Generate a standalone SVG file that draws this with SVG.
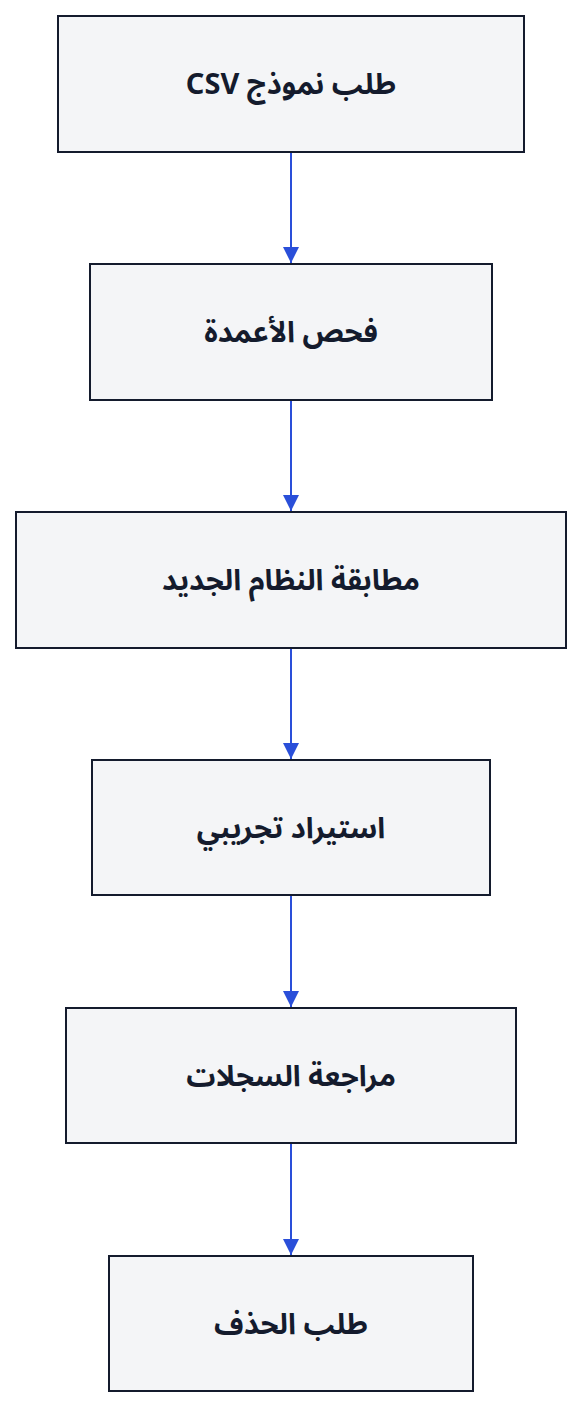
<svg xmlns="http://www.w3.org/2000/svg" width="582" height="1408" viewBox="0 0 582 1408">
<defs>
<style>
.box{fill:#f4f5f7;stroke:#141b2d;stroke-width:2}
.lbl{font-family:"Noto Sans","Noto Sans Arabic","DejaVu Sans",sans-serif;font-weight:bold;font-size:29px;fill:#141b2d;text-anchor:middle;dominant-baseline:central;direction:rtl;unicode-bidi:embed}
.edge{stroke:#2a4fd9;stroke-width:2;fill:none}
</style>
<marker id="ah" viewBox="0 0 16 16" refX="16" refY="8" markerWidth="16" markerHeight="16" markerUnits="userSpaceOnUse" orient="auto">
<path d="M0,0 L16,8 L0,16 Z" fill="#2a4fd9"/>
</marker>
</defs>
<rect width="582" height="1408" fill="#ffffff"/>
<g id="edges">
<line class="edge" x1="291" y1="152" x2="291" y2="263" marker-end="url(#ah)"/>
<line class="edge" x1="291" y1="400" x2="291" y2="511" marker-end="url(#ah)"/>
<line class="edge" x1="291" y1="648" x2="291" y2="759" marker-end="url(#ah)"/>
<line class="edge" x1="291" y1="895" x2="291" y2="1007" marker-end="url(#ah)"/>
<line class="edge" x1="291" y1="1143" x2="291" y2="1255" marker-end="url(#ah)"/>
</g>
<g id="n1"><rect class="box" x="58" y="16" width="466" height="136"/><text class="lbl" x="291" y="82" direction="rtl">طلب نموذج CSV</text></g>
<g id="n2"><rect class="box" x="90" y="264" width="402" height="136"/><text class="lbl" x="291" y="330" direction="rtl">فحص الأعمدة</text></g>
<g id="n3"><rect class="box" x="16" y="512" width="550" height="136"/><text class="lbl" x="291" y="578" direction="rtl">مطابقة النظام الجديد</text></g>
<g id="n4"><rect class="box" x="92" y="760" width="398" height="135"/><text class="lbl" x="291" y="826" direction="rtl">استيراد تجريبي</text></g>
<g id="n5"><rect class="box" x="66" y="1008" width="450" height="135"/><text class="lbl" x="291" y="1074" direction="rtl">مراجعة السجلات</text></g>
<g id="n6"><rect class="box" x="109" y="1256" width="364" height="135"/><text class="lbl" x="291" y="1322" direction="rtl">طلب الحذف</text></g>
</svg>
